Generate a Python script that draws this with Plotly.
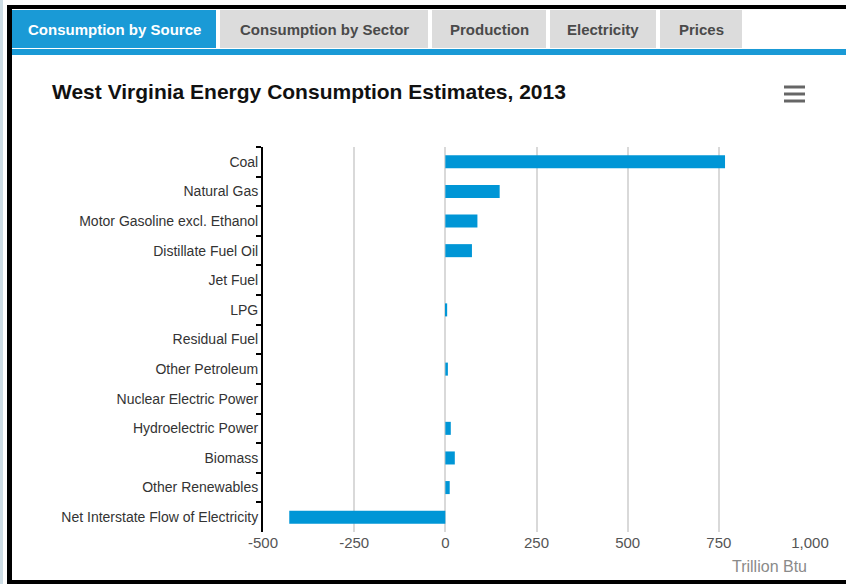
import plotly.graph_objects as go

W, H = 846, 584

categories = ["Coal", "Natural Gas", "Motor Gasoline excl. Ethanol", "Distillate Fuel Oil",
              "Jet Fuel", "LPG", "Residual Fuel", "Other Petroleum", "Nuclear Electric Power",
              "Hydroelectric Power", "Biomass", "Other Renewables",
              "Net Interstate Flow of Electricity"]
values = [767, 149, 88, 73, 0, 5, 0, 7, 0, 15, 26, 12, -428]

x_ticks = [-500, -250, 0, 250, 500, 750, 1000]
x_ticklabels = ["-500", "-250", "0", "250", "500", "750", "1,000"]

tabs = ["Consumption by Source", "Consumption by Sector", "Production", "Electricity", "Prices"]
tab_x = [(12, 216), (220, 428), (432, 546), (550, 656), (660, 742)]

def px(x):
    return x / W

def py(y):
    return 1 - y / H

FONT = "Liberation Sans, Arial, sans-serif"

fig = go.Figure()
fig.add_trace(go.Bar(
    y=categories, x=values, orientation="h",
    marker=dict(color="#0096d6", line=dict(width=0)),
    hoverinfo="x+y",
))

shapes = []
annotations = []

# outer decoration: light strip and black frame
shapes.append(dict(type="rect", xref="paper", yref="paper", x0=0, x1=px(3), y0=0, y1=1,
                   fillcolor="#cddde5", line=dict(width=0), layer="below"))
shapes.append(dict(type="rect", xref="paper", yref="paper", x0=px(7), x1=px(12), y0=py(584), y1=py(5),
                   fillcolor="#000000", line=dict(width=0)))
shapes.append(dict(type="rect", xref="paper", yref="paper", x0=px(7), x1=1, y0=py(9), y1=py(5),
                   fillcolor="#000000", line=dict(width=0)))
shapes.append(dict(type="rect", xref="paper", yref="paper", x0=px(7), x1=1, y0=0, y1=py(580),
                   fillcolor="#000000", line=dict(width=0)))

# tabs
for i, (name, (a, b)) in enumerate(zip(tabs, tab_x)):
    active = i == 0
    shapes.append(dict(type="rect", xref="paper", yref="paper", x0=px(a), x1=px(b), y0=py(48), y1=py(10),
                       fillcolor="#1a9ad6" if active else "#dcdcdc", line=dict(width=0)))
    annotations.append(dict(text="<b>" + name + "</b>", xref="paper", yref="paper", x=px((a + b) / 2), y=py(29),
                            xanchor="center", yanchor="middle", showarrow=False,
                            font=dict(family=FONT, size=15, color="#ffffff" if active else "#4a4a4a")))
shapes.append(dict(type="rect", xref="paper", yref="paper", x0=px(12), x1=1, y0=py(55), y1=py(49),
                   fillcolor="#1a9ad6", line=dict(width=0)))

# hamburger menu icon
for yy in (87, 94, 101):
    shapes.append(dict(type="rect", xref="paper", yref="paper", x0=px(784), x1=px(805),
                       y0=py(yy + 1.5), y1=py(yy - 1.5), fillcolor="#666666", line=dict(width=0)))

# title
annotations.append(dict(text="<b>West Virginia Energy Consumption Estimates, 2013</b>",
                        xref="paper", yref="paper", x=px(50), y=py(91),
                        xanchor="left", yanchor="middle", showarrow=False,
                        font=dict(family=FONT, size=21, color="#111111")))
# axis title
annotations.append(dict(text="Trillion Btu", xref="paper", yref="paper", x=px(809), y=py(566),
                        xanchor="right", yanchor="middle", showarrow=False,
                        font=dict(family=FONT, size=16, color="#8a8a8a")))

fig.update_layout(
    width=W, height=H,
    margin=dict(l=0, r=0, t=0, b=0),
    paper_bgcolor="#ffffff", plot_bgcolor="#ffffff",
    showlegend=False,
    bargap=0.56,
    shapes=shapes, annotations=annotations,
    xaxis=dict(domain=[px(263), px(810)], range=[-500, 1000], tickvals=x_ticks, ticktext=x_ticklabels,
               showgrid=True, gridcolor="#d9d9d9", gridwidth=1.5, zeroline=True, zerolinecolor="#d9d9d9",
               zerolinewidth=1.5, showline=False, ticks="", automargin=False,
               tickfont=dict(family=FONT, size=15, color="#555555")),
    yaxis=dict(domain=[py(532), py(147)], autorange="reversed", type="category",
               showline=True, linecolor="#000000", linewidth=2,
               ticks="outside", tickson="boundaries", ticklen=5, tickwidth=2, tickcolor="#000000",
               showgrid=False, automargin=False,
               tickfont=dict(family=FONT, size=14, color="#333333")),
)

fig.write_html("out.html", config={"displayModeBar": False},
               post_script="document.body.style.margin='0';document.body.style.overflow='hidden';")
